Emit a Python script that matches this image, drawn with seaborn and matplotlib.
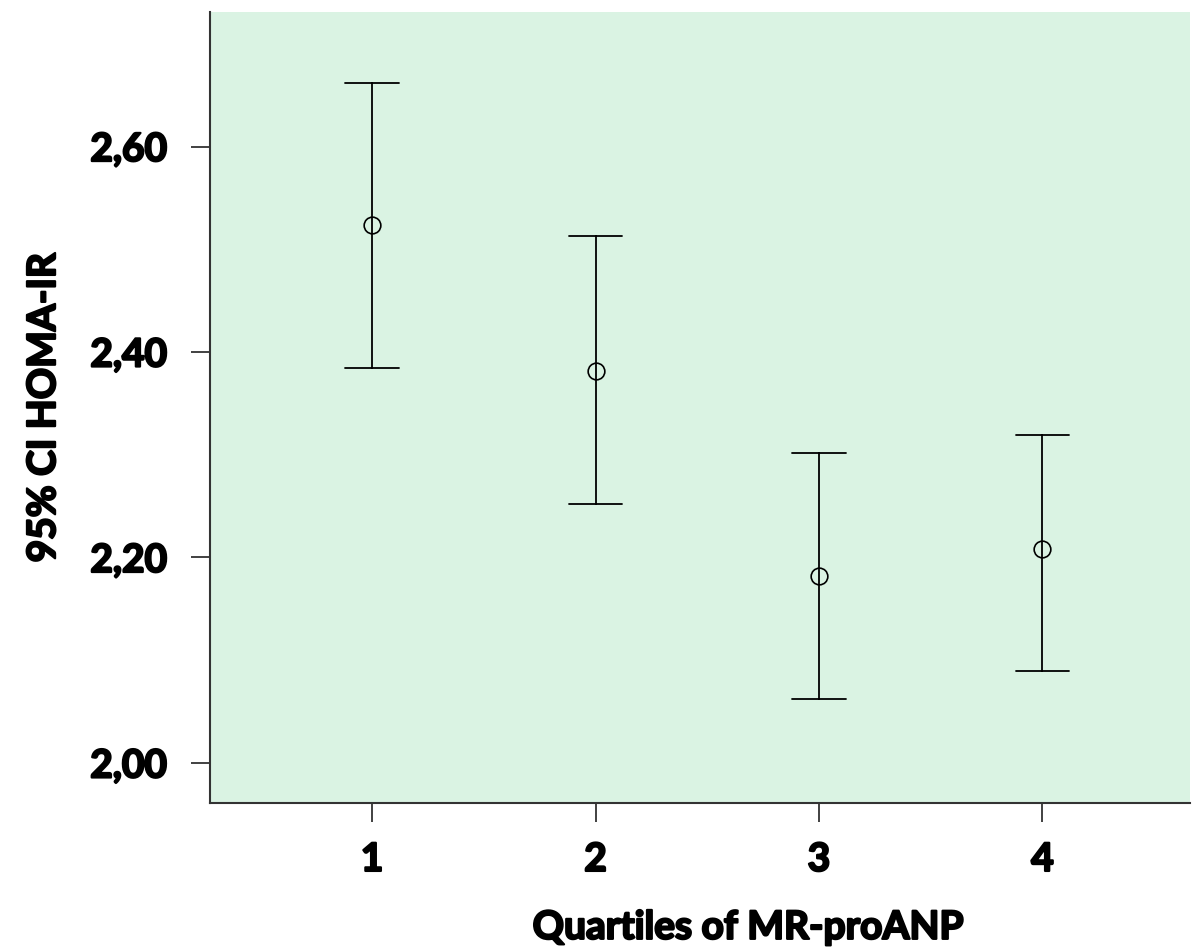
import pandas as pd
import numpy as np
import matplotlib
matplotlib.use("Agg")
import matplotlib.pyplot as plt
import matplotlib.patheffects as pe
from matplotlib.ticker import FuncFormatter
import seaborn as sns

# 95% CI of HOMA-IR by quartile of MR-proANP
quartiles = [1, 2, 3, 4]
means = [2.524, 2.382, 2.182, 2.208]
ci_lower = [2.384, 2.252, 2.062, 2.090]
ci_upper = [2.662, 2.513, 2.302, 2.319]

# long form: median of (lower, mean, upper) is the mean, range is the CI
rows = []
for q, lo, m, hi in zip(quartiles, ci_lower, means, ci_upper):
    for v in (lo, m, hi):
        rows.append({"quartile": q, "homa": v})
d = pd.DataFrame(rows)

sns.set_style("ticks")
plt.rcParams["font.family"] = ["Lato", "DejaVu Sans"]

dpi = 100
fig = plt.figure(figsize=(1194 / dpi, 949 / dpi), dpi=dpi)
ax = fig.add_axes([0.1759, 0.1538, 0.8207, 0.8336])
ax.set_facecolor("#daf3e3")

sns.pointplot(data=d, x="quartile", y="homa", estimator="median",
              errorbar=("pi", 100), native_scale=True, linestyle="none",
              capsize=0.24, color="black", err_kws={"linewidth": 1.3},
              marker="o", markersize=12, markerfacecolor="none",
              markeredgewidth=1.2, ax=ax)

ax.set_xlim(0.275, 4.66)
ax.set_ylim(1.961, 2.731)
ax.set_xticks(quartiles)
ax.set_yticks([2.0, 2.2, 2.4, 2.6])
ax.yaxis.set_major_formatter(FuncFormatter(lambda v, p: f"{v:.2f}".replace(".", ",")))

for s in ["top", "right"]:
    ax.spines[s].set_visible(False)
for s in ["left", "bottom"]:
    ax.spines[s].set_color("#333333")
    ax.spines[s].set_linewidth(1.5)
ax.tick_params(axis="both", length=14, width=1.3, color="#333333",
               labelsize=28, labelcolor="black", pad=10)
ax.tick_params(axis="y", pad=17)
ax.tick_params(axis="x", pad=14)

heavy = [pe.withStroke(linewidth=1.6, foreground="black")]
for lab in ax.get_xticklabels() + ax.get_yticklabels():
    lab.set_fontweight("bold")
    lab.set_path_effects(heavy)

ax.set_xlabel("Quartiles of MR-proANP", fontsize=28, fontweight="bold",
              color="black", path_effects=heavy)
ax.set_ylabel("95% CI HOMA-IR", fontsize=28, fontweight="bold",
              color="black", path_effects=heavy)
ax.xaxis.set_label_coords(0.549, -0.135)
ax.yaxis.set_label_coords(-0.152, 0.5)

fig.savefig("out.png", dpi=dpi)
